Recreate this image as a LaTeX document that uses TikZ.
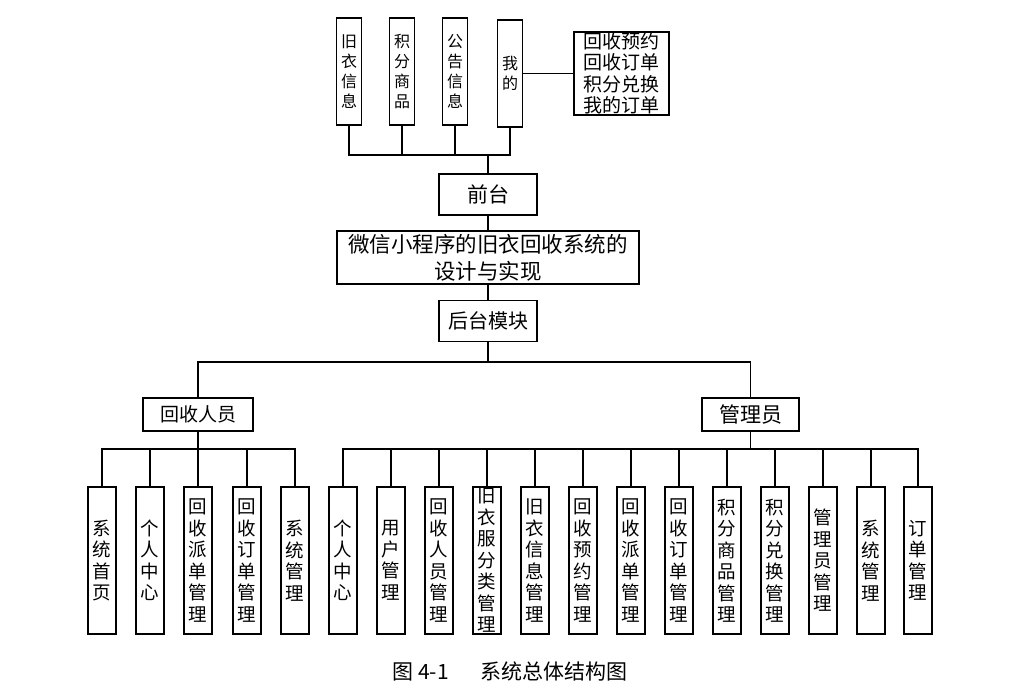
\documentclass[tikz,border=0pt]{standalone}
\usepackage{fontspec}
\newfontfamily\cjk{Noto Sans CJK SC}
\tikzset{
  box/.style={draw,line width=1.3pt,inner sep=0pt,align=center,font=\cjk\fontsize{18.5}{21.5}\selectfont},
  vbox/.style={box,minimum width=28pt,minimum height=147pt},
  tbox/.style={box,minimum width=25pt,minimum height=107pt,font=\cjk\fontsize{16}{20}\selectfont},
  hbox/.style={box,minimum height=41pt},
  link/.style={line width=1.3pt}
}

\begin{document}
\begin{tikzpicture}[x=1pt,y=-1pt]
\useasboundingbox (0,0) rectangle (1024,698);
% front end
\node[tbox] (jyxx) at (349,71.5) {旧\\衣\\信\\息};
\node[tbox] (jfsp) at (402,71.5) {积\\分\\商\\品};
\node[tbox] (ggxx) at (455,71.5) {公\\告\\信\\息};
\node[tbox] (wd) at (510,73.5) {我\\的};
\node[box,minimum width=95pt,minimum height=83pt,font=\cjk\fontsize{19}{21.5}\selectfont] (wdlist) at (621.5,73.5) {回收预约\\回收订单\\积分兑换\\我的订单};
\node[hbox,minimum width=98pt,font=\cjk\fontsize{21}{24}\selectfont] (qt) at (488,194.5) {前台};
\node[box,minimum width=302pt,minimum height=53pt,font=\cjk\fontsize{21.5}{27}\selectfont] (xt) at (488,257.5) {微信小程序的旧衣回收系统的\\设计与实现};
\node[hbox,minimum width=98pt,font=\cjk\fontsize{20}{24}\selectfont] (ht) at (488,321) {后台模块};
\coordinate (topbus) at (488,155);
\coordinate (midbus) at (488,362);
\draw[link] (wd.east) -- (wdlist.west);
\draw[link] (jyxx.south) |- (topbus) -| (wd.south);
\draw[link] (jfsp.south) -- (jfsp.south |- topbus);
\draw[link] (ggxx.south) -- (ggxx.south |- topbus);
\draw[link] (topbus) -- (qt.north);
\draw[link] (qt.south) -- (xt.north);
\draw[link] (xt.south) -- (ht.north);
\draw[link] (ht.south) -- (midbus);
% roles
\node[hbox,minimum width=110pt,minimum height=33pt,font=\cjk\fontsize{19}{22}\selectfont] (hsry) at (198,414.5) {回收人员};
\node[hbox,minimum width=97pt,minimum height=33pt,font=\cjk\fontsize{21}{24}\selectfont] (gly) at (750.5,414.5) {管理员};
\draw[link] (hsry.north) |- (midbus) -| (gly.north);
% recycler modules
\node[vbox] (rsy) at (102,560.5) {系\\统\\首\\页};
\node[vbox] (rgr) at (150,560.5) {个\\人\\中\\心};
\node[vbox] (rpd) at (198,560.5) {回\\收\\派\\单\\管\\理};
\node[vbox] (rdd) at (247,560.5) {回\\收\\订\\单\\管\\理};
\node[vbox] (rxt) at (295,560.5) {系\\统\\管\\理};
\coordinate (rbus) at (198,449);
\draw[link] (hsry.south) -- (rbus);
\draw[link] (rsy.north) |- (rbus) -| (rxt.north);
\draw[link] (rgr.north) -- (rgr.north |- rbus);
\draw[link] (rpd.north) -- (rpd.north |- rbus);
\draw[link] (rdd.north) -- (rdd.north |- rbus);
% admin modules
\node[vbox] (agr) at (343,560.5) {个\\人\\中\\心};
\node[vbox] (ayh) at (391,560.5) {用\\户\\管\\理};
\node[vbox] (ahs) at (439,560.5) {回\\收\\人\\员\\管\\理};
\node[vbox] (afl) at (487,560.5) {旧\\衣\\服\\分\\类\\管\\理};
\node[vbox] (ajy) at (535,560.5) {旧\\衣\\信\\息\\管\\理};
\node[vbox] (ayy) at (583,560.5) {回\\收\\预\\约\\管\\理};
\node[vbox] (apd) at (631,560.5) {回\\收\\派\\单\\管\\理};
\node[vbox] (add) at (679,560.5) {回\\收\\订\\单\\管\\理};
\node[vbox] (asp) at (727,560.5) {积\\分\\商\\品\\管\\理};
\node[vbox] (adh) at (775,560.5) {积\\分\\兑\\换\\管\\理};
\node[vbox] (agl) at (823,560.5) {管\\理\\员\\管\\理};
\node[vbox] (axt) at (871,560.5) {系\\统\\管\\理};
\node[vbox] (aord) at (918,560.5) {订\\单\\管\\理};
\coordinate (abus) at (750.5,449);
\draw[link] (gly.south) -- (abus);
\draw[link] (agr.north) |- (abus) -| (aord.north);
\draw[link] (ayh.north) -- (ayh.north |- abus);
\draw[link] (ahs.north) -- (ahs.north |- abus);
\draw[link] (afl.north) -- (afl.north |- abus);
\draw[link] (ajy.north) -- (ajy.north |- abus);
\draw[link] (ayy.north) -- (ayy.north |- abus);
\draw[link] (apd.north) -- (apd.north |- abus);
\draw[link] (add.north) -- (add.north |- abus);
\draw[link] (asp.north) -- (asp.north |- abus);
\draw[link] (adh.north) -- (adh.north |- abus);
\draw[link] (agl.north) -- (agl.north |- abus);
\draw[link] (axt.north) -- (axt.north |- abus);
% caption
\node[font=\cjk\fontsize{21}{24}\selectfont] (cap) at (510,671) {图 4-1\hspace{1.5em}系统总体结构图};
\end{tikzpicture}
\end{document}
